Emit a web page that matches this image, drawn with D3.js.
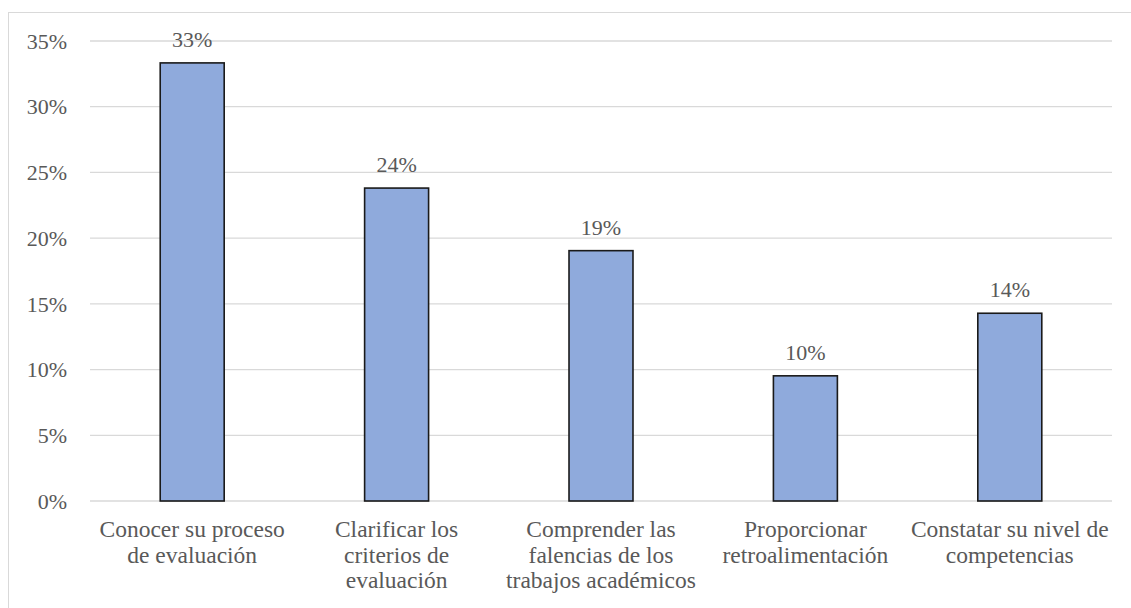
<!DOCTYPE html>
<html>
<head>
<meta charset="utf-8">
<script src="https://cdn.jsdelivr.net/npm/d3@7"></script>
</head>
<body style="margin:0">
<div id="fig"></div>
<script>
// Category labels (line breaks mark where each label wraps)
const categories = [
  "Conocer su proceso\nde evaluación",
  "Clarificar los\ncriterios de\nevaluación",
  "Comprender las\nfalencias de los\ntrabajos académicos",
  "Proporcionar\nretroalimentación",
  "Constatar su nivel de\ncompetencias"
];
// Share of responses per purpose (fraction)
const values = [7 / 21, 5 / 21, 4 / 21, 2 / 21, 3 / 21];
// Y-axis tick values
const yTicks = [0, 0.05, 0.10, 0.15, 0.20, 0.25, 0.30, 0.35];

const FONT = "Liberation Serif";
const TEXT_COLOR = "#595959";

const svg = d3.select("#fig").append("svg")
  .attr("width", 1131).attr("height", 608)
  .attr("font-family", FONT);
const plot = { left: 90, right: 1112, top: 41, bottom: 501 };

// Outer chart frame
svg.append("rect")
  .attr("x", 8.5).attr("y", 12.5)
  .attr("width", 1140).attr("height", 620)
  .attr("fill", "none").attr("stroke", "#d9d9d9").attr("stroke-width", 1);

const x = d3.scaleBand()
  .domain(categories)
  .range([plot.left, plot.right])
  .paddingInner(0.687)
  .paddingOuter(0.687 / 2);

const y = d3.scaleLinear()
  .domain([0, 0.35])
  .range([plot.bottom, plot.top]);

const pct = d3.format(".0%");

// Horizontal gridlines
svg.append("g").selectAll("line")
  .data(yTicks)
  .join("line")
  .attr("x1", plot.left).attr("x2", plot.right)
  .attr("y1", d => y(d)).attr("y2", d => y(d))
  .attr("stroke", "#d9d9d9").attr("stroke-width", 1.3);

// Y tick labels
svg.append("g").selectAll("text")
  .data(yTicks)
  .join("text")
  .attr("x", plot.left - 23)
  .attr("y", d => y(d))
  .attr("dy", "0.35em")
  .attr("text-anchor", "end")
  .attr("font-family", FONT)
  .attr("font-size", 22)
  .attr("fill", TEXT_COLOR)
  .text(d => pct(d));

// Bars
svg.append("g").selectAll("rect")
  .data(values)
  .join("rect")
  .attr("x", (d, i) => x(categories[i]))
  .attr("y", d => y(d))
  .attr("width", x.bandwidth())
  .attr("height", d => y(0) - y(d))
  .attr("fill", "#8faadc")
  .attr("stroke", "#1a1a1a")
  .attr("stroke-width", 1.6);

// Value labels above bars
svg.append("g").selectAll("text")
  .data(values)
  .join("text")
  .attr("x", (d, i) => x(categories[i]) + x.bandwidth() / 2)
  .attr("y", d => y(d) - 16)
  .attr("text-anchor", "middle")
  .attr("font-family", FONT)
  .attr("font-size", 22)
  .attr("fill", TEXT_COLOR)
  .text(d => pct(d));

// Wrapped category labels
const gx = svg.append("g");
categories.forEach(c => {
  const cx = x(c) + x.bandwidth() / 2;
  const t = gx.append("text")
    .attr("x", cx)
    .attr("y", 537)
    .attr("text-anchor", "middle")
    .attr("font-family", FONT)
    .attr("font-size", 23.5)
    .attr("fill", TEXT_COLOR);
  c.split("\n").forEach((line, j) => {
    t.append("tspan")
      .attr("x", cx)
      .attr("dy", j === 0 ? 0 : 25.5)
      .text(line);
  });
});
</script>
</body>
</html>
